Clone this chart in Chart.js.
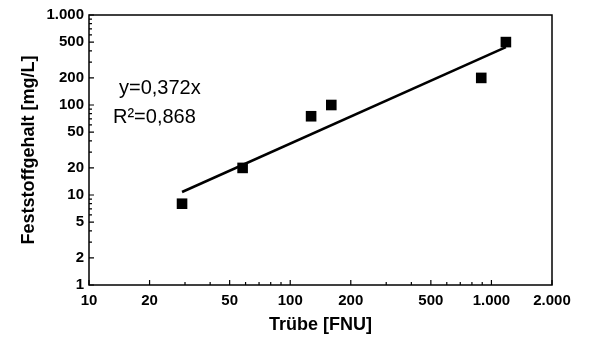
<!DOCTYPE html>
<html>
<head>
<meta charset="utf-8">
<script src="https://cdn.jsdelivr.net/npm/chart.js@4.4.1/dist/chart.umd.min.js"></script>
<style>
  html, body { margin: 0; padding: 0; background: #fff; }
  #wrap { width: 591px; height: 338px; }
</style>
</head>
<body>
<div id="wrap"><canvas id="grafico" width="591" height="338"></canvas></div>
<script>
// Messwerte (Trübe / Feststoffgehalt)
const truebe = [29, 58, 127, 160, 890, 1180];
const feststoff = [8, 20, 75, 100, 200, 500];

// Regressionsgerade y = 0,372x (Anfangs- und Endpunkt aus dem Bild)
const geradeX = [29, 1180];
const geradeY = [10.8, 439];

// Achsenteilung
const xTicks = [10, 20, 30, 40, 50, 60, 70, 80, 90, 100, 200, 300, 400, 500, 600, 700, 800, 900, 1000, 2000];
const xLabels = [10, 20, 50, 100, 200, 500, 1000, 2000];
const yTicks = [1, 2, 3, 4, 5, 6, 7, 8, 9, 10, 20, 30, 40, 50, 60, 70, 80, 90, 100, 200, 300, 400, 500, 600, 700, 800, 900, 1000];
const yLabels = [1, 2, 5, 10, 20, 50, 100, 200, 500, 1000];

const gleichung = ['y=0,372x', 'R\u00b2=0,868'];

function formatZahl(v) {
    return String(v).replace(/\B(?=(\d{3})+(?!\d))/g, '.');
}

const schrift = "'Liberation Sans', Arial, sans-serif";

// Rahmen, nach innen zeigende Striche und Gleichungstext
const rahmenPlugin = {
    id: 'rahmen',
    afterDraw(chart) {
        const ctx = chart.ctx;
        const a = chart.chartArea;
        const sx = chart.scales.x;
        const sy = chart.scales.y;
        ctx.save();
        ctx.strokeStyle = '#000';
        ctx.lineWidth = 1.5;
        ctx.strokeRect(a.left, a.top, a.right - a.left, a.bottom - a.top);

        ctx.lineWidth = 1.2;
        ctx.beginPath();
        xTicks.forEach(v => {
            const px = sx.getPixelForValue(v);
            const len = xLabels.includes(v) ? 5 : 3;
            ctx.moveTo(px, a.bottom);
            ctx.lineTo(px, a.bottom - len);
        });
        yTicks.forEach(v => {
            const py = sy.getPixelForValue(v);
            const len = yLabels.includes(v) ? 5 : 3;
            ctx.moveTo(a.left, py);
            ctx.lineTo(a.left + len, py);
        });
        ctx.stroke();

        ctx.fillStyle = '#000';
        ctx.font = '20px ' + schrift;
        ctx.textBaseline = 'middle';
        ctx.textAlign = 'left';
        ctx.fillText(gleichung[0], a.left + 30, a.top + 73);
        ctx.fillText(gleichung[1], a.left + 24, a.top + 102);
        ctx.restore();
    }
};

const ctx = document.getElementById('grafico').getContext('2d');
const grafico = new Chart(ctx, {
    type: 'scatter',
    data: {
        datasets: [
            {
                type: 'line',
                label: 'Regression',
                data: geradeX.map((x, i) => ({ x: x, y: geradeY[i] })),
                borderColor: '#000',
                borderWidth: 2.5,
                pointRadius: 0,
                fill: false
            },
            {
                label: 'Messwerte',
                data: truebe.map((x, i) => ({ x: x, y: feststoff[i] })),
                pointStyle: 'rect',
                pointRadius: 7.5,
                backgroundColor: '#000',
                borderColor: '#000',
                borderWidth: 0
            }
        ]
    },
    options: {
        responsive: false,
        animation: false,
        layout: { padding: { top: 15, right: 39, bottom: 0, left: 0 } },
        plugins: {
            legend: { display: false },
            tooltip: { enabled: false }
        },
        scales: {
            x: {
                type: 'logarithmic',
                min: 10,
                max: 2000,
                afterBuildTicks: s => { s.ticks = xTicks.map(v => ({ value: v })); },
                afterFit: s => { s.height = 53; },
                grid: { display: false, drawTicks: false },
                border: { display: false },
                ticks: {
                    autoSkip: false,
                    maxRotation: 0,
                    padding: 7,
                    color: '#000',
                    font: { family: schrift, size: 15, weight: 'bold' },
                    callback: v => xLabels.includes(v) ? formatZahl(v) : ''
                },
                title: {
                    display: true,
                    text: 'Trübe [FNU]',
                    color: '#000',
                    font: { family: schrift, size: 18, weight: 'bold' },
                    padding: { top: 0, bottom: 2 }
                }
            },
            y: {
                type: 'logarithmic',
                min: 1,
                max: 1000,
                afterBuildTicks: s => { s.ticks = yTicks.map(v => ({ value: v })); },
                afterFit: s => { s.width = 89; },
                grid: { display: false, drawTicks: false },
                border: { display: false },
                ticks: {
                    autoSkip: false,
                    padding: 5,
                    color: '#000',
                    font: { family: schrift, size: 15, weight: 'bold' },
                    callback: v => yLabels.includes(v) ? formatZahl(v) : ''
                },
                title: {
                    display: true,
                    text: 'Feststoffgehalt [mg/L]',
                    color: '#000',
                    font: { family: schrift, size: 18, weight: 'bold' },
                    padding: { top: 18, bottom: 0 }
                }
            }
        }
    },
    plugins: [rahmenPlugin]
});
</script>
</body>
</html>
